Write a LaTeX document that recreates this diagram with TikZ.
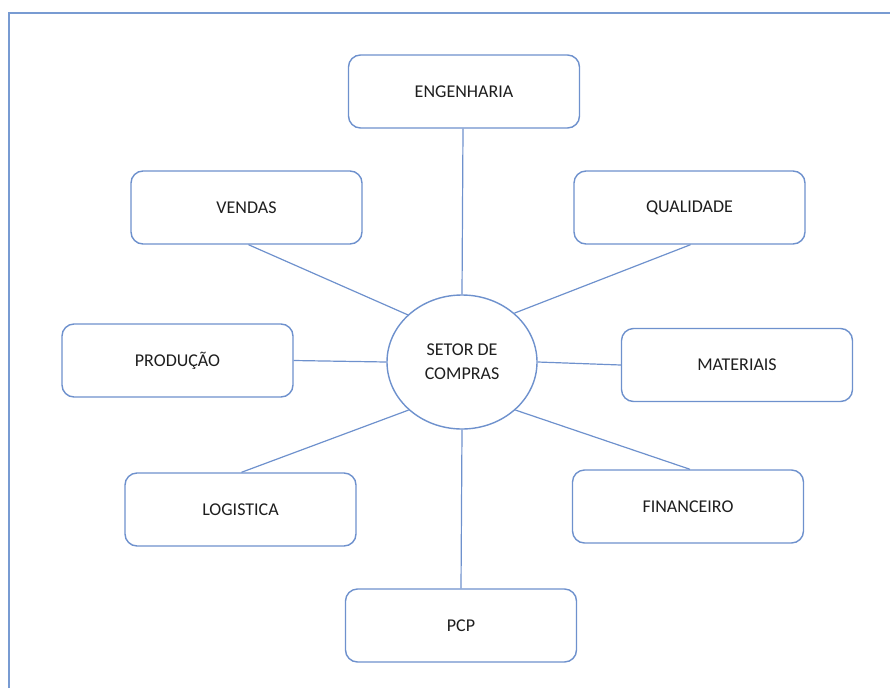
\documentclass[tikz,border=0pt]{standalone}
\usepackage{fontspec}
\setmainfont{Carlito}
\usetikzlibrary{shapes.geometric}
\definecolor{frameblue}{RGB}{120,155,210}
\definecolor{lineblue}{RGB}{110,145,205}
\definecolor{txt}{RGB}{30,30,30}
\tikzset{
  dept/.style={draw=lineblue, line width=1.4pt, rounded corners=12pt, fill=white,
    minimum width=231pt, minimum height=73pt, inner sep=0pt, text=txt,
    font=\fontsize{18}{22}\selectfont},
  hub/.style={draw=lineblue, line width=1.4pt, ellipse, fill=white,
    minimum width=150pt, minimum height=134pt, inner sep=0pt, text=txt,
    align=center, font=\fontsize{18}{24}\selectfont},
  link/.style={draw=lineblue, line width=1.2pt}
}
\begin{document}
\begin{tikzpicture}[x=1pt,y=-1pt]
\useasboundingbox (0,0) rectangle (890,688);
\draw[frameblue, line width=2.2pt] (9,688) -- (9,13) -- (890,13);

\node[hub] (c) at (462,362) {SETOR DE\\COMPRAS};

\node[dept] (eng) at (464,91.5) {ENGENHARIA};
\node[dept] (ven) at (246.5,207.5) {VENDAS};
\node[dept] (qua) at (689.5,207.5) {QUALIDADE};
\node[dept] (pro) at (177.5,360.5) {PRODUÇÃO};
\node[dept] (mat) at (737,365) {MATERIAIS};
\node[dept] (log) at (240.5,509.5) {LOGISTICA};
\node[dept] (fin) at (688,506.5) {FINANCEIRO};
\node[dept] (pcp) at (461,625.5) {PCP};

\coordinate (e1) at ([xshift=-1pt]eng.south);
\coordinate (v1) at ([xshift=2pt]ven.south);
\coordinate (q1) at ([xshift=1pt]qua.south);
\coordinate (l1) at ([xshift=1pt]log.north);
\coordinate (f1) at ([xshift=2pt]fin.north);

\draw[link] (e1) -- (c.90);
\draw[link] (v1) -- (c.139);
\draw[link] (q1) -- (c.43);
\draw[link] (pro.east) -- (c.180);
\draw[link] (mat.west) -- (c.0);
\draw[link] (l1) -- (c.222);
\draw[link] (f1) -- (c.318);
\draw[link] (pcp.north) -- (c.270);
\end{tikzpicture}
\end{document}
